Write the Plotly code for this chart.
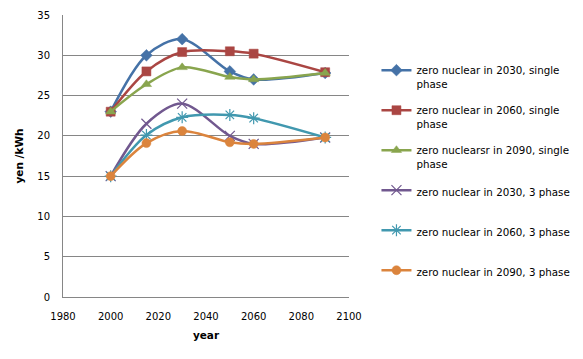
import plotly.graph_objects as go

years = [2000, 2015, 2030, 2050, 2060, 2090]
names = [
    "zero nuclear in 2030, single<br>phase",
    "zero nuclear in 2060, single<br>phase",
    "zero nuclearsr in 2090, single<br>phase",
    "zero nuclear in 2030, 3 phase",
    "zero nuclear in 2060, 3 phase",
    "zero nuclear in 2090, 3 phase",
]
s1 = [23.0, 30.0, 32.0, 28.0, 27.0, 27.8]
s2 = [23.0, 28.0, 30.4, 30.5, 30.2, 27.9]
s3 = [23.0, 26.4, 28.5, 27.3, 27.0, 27.8]
s4 = [15.0, 21.5, 24.0, 20.0, 19.0, 19.8]
s5 = [15.0, 20.1, 22.3, 22.6, 22.2, 19.8]
s6 = [15.0, 19.1, 20.6, 19.2, 19.0, 19.8]
series = [s1, s2, s3, s4, s5, s6]
colors = ["#4572A7", "#AA4643", "#89A54E", "#71588F", "#4198AF", "#DB843D"]
symbols = ["diamond", "square", "triangle-up", "x-thin", "asterisk", "circle"]
sizes = [9, 9, 9, 10, 10, 9]

# page body has an 8px default margin; figure is sized/offset to compensate
W, H = 575, 351
L, T = 55, 7
plot_w, plot_h = 286, 282
R = W - L - plot_w
B = H - T - plot_h
legend_tops = [49, 89, 129, 169, 209, 249]

fig = go.Figure()
layout_legends = {}
for i, (nm, ys, c, sym, sz) in enumerate(zip(names, series, colors, symbols, sizes)):
    open_sym = sym in ("x-thin", "asterisk")
    key = "legend" if i == 0 else f"legend{i+1}"
    fig.add_trace(go.Scatter(
        x=years, y=ys, name=nm, mode="lines+markers", legend=key,
        line=dict(color=c, width=2.5, shape="spline", smoothing=0.9),
        marker=dict(symbol=sym, size=sz, color=c,
                    line=dict(color=c, width=1.2 if open_sym else 0.5)),
    ))
    layout_legends[key] = dict(
        x=1.096, y=1 - (legend_tops[i] - T) / plot_h,
        xanchor="left", yanchor="top", valign="top", itemwidth=30,
        font=dict(family="DejaVu Sans", size=10.3, color="#000000"),
        bgcolor="rgba(0,0,0,0)", borderwidth=0,
    )

fig.update_layout(
    width=W, height=H,
    margin=dict(l=L, r=R, t=T, b=B, autoexpand=False),
    plot_bgcolor="white", paper_bgcolor="white",
    font=dict(family="DejaVu Sans", size=10, color="#000000"),
    showlegend=True,
    xaxis=dict(range=[1980, 2100], dtick=20, showgrid=False,
               showline=True, linecolor="#868686", linewidth=1,
               ticks="", zeroline=False, ticklabelstandoff=10, automargin=False,
               title=dict(text="<b>year</b>", font=dict(size=10.5), standoff=10)),
    yaxis=dict(range=[0, 35], dtick=5, showgrid=True, gridcolor="#868686",
               gridwidth=1, showline=True, linecolor="#868686", linewidth=1,
               ticks="", zeroline=False, ticklabelstandoff=10, automargin=False,
               title=dict(text="<b>yen /kWh</b>", font=dict(size=10.5), standoff=11)),
    **layout_legends,
)
fig.write_html("out.html")
